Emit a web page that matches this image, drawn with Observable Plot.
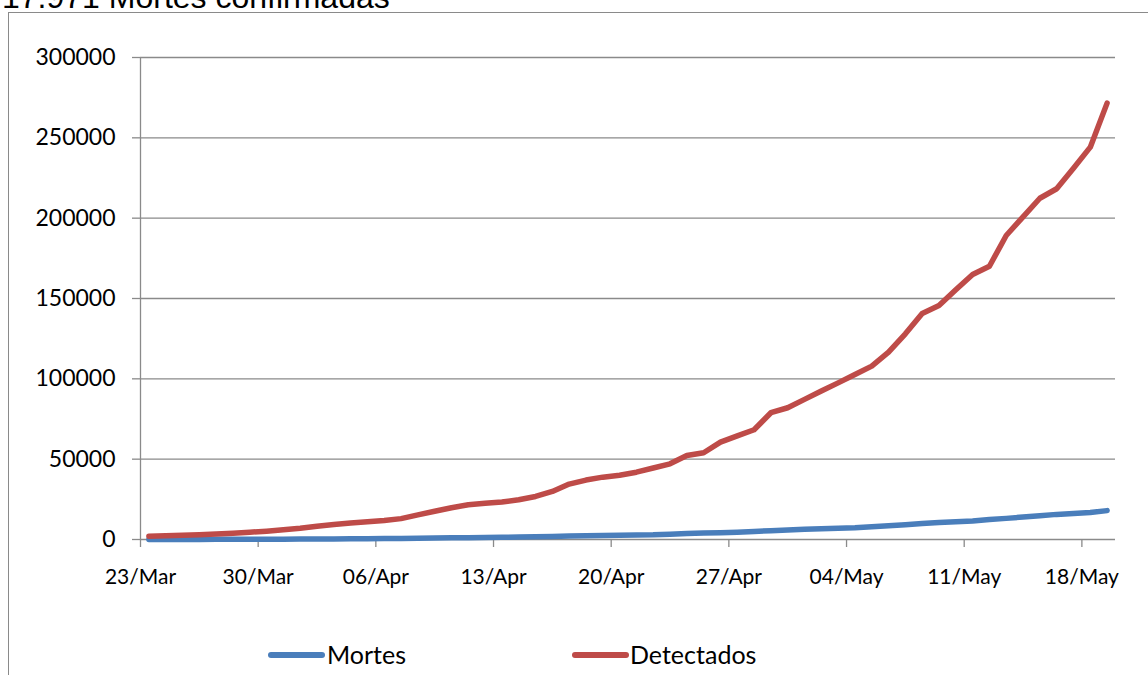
<!DOCTYPE html>
<html>
<head>
<meta charset="utf-8">
<script src="https://cdn.jsdelivr.net/npm/d3@7"></script>
<script src="https://cdn.jsdelivr.net/npm/@observablehq/plot@0.6"></script>
<style>
  html, body { margin: 0; padding: 0; background: #fff; overflow: hidden; width: 1148px; height: 675px; }
  #wrap { position: relative; width: 1148px; height: 675px; overflow: hidden; }
  #frame { position: absolute; left: 8px; top: 12px; width: 1300px; height: 800px; border: 1px solid #8a8a8a; box-sizing: border-box; }
  #title { position: absolute; left: 2px; top: -19px; font-family: "Liberation Sans", Arial, sans-serif; font-size: 32px; line-height: 32px; color: #000; white-space: nowrap; }
  #chart { position: absolute; left: 0; top: 0; }
  .leg { position: absolute; font-family: Lato, sans-serif; font-size: 25px; line-height: 30px; color: #000; top: 639px; }
  .sw { position: absolute; height: 6px; border-radius: 3px; top: 652px; }
</style>
</head>
<body>
<div id="wrap">
  <div id="frame"></div>
  <div id="title">17.971 Mortes confirmadas</div>
  <div id="chart"></div>
  <div id="legend"></div>
</div>
<script>
const dates = [
  "2020-03-23","2020-03-24","2020-03-25","2020-03-26","2020-03-27","2020-03-28","2020-03-29",
  "2020-03-30","2020-03-31","2020-04-01","2020-04-02","2020-04-03","2020-04-04","2020-04-05",
  "2020-04-06","2020-04-07","2020-04-08","2020-04-09","2020-04-10","2020-04-11","2020-04-12",
  "2020-04-13","2020-04-14","2020-04-15","2020-04-16","2020-04-17","2020-04-18","2020-04-19",
  "2020-04-20","2020-04-21","2020-04-22","2020-04-23","2020-04-24","2020-04-25","2020-04-26",
  "2020-04-27","2020-04-28","2020-04-29","2020-04-30","2020-05-01","2020-05-02","2020-05-03",
  "2020-05-04","2020-05-05","2020-05-06","2020-05-07","2020-05-08","2020-05-09","2020-05-10",
  "2020-05-11","2020-05-12","2020-05-13","2020-05-14","2020-05-15","2020-05-16","2020-05-17",
  "2020-05-18","2020-05-19"
];
const mortes = [
  34, 46, 57, 77, 92, 114, 136,
  159, 201, 240, 324, 359, 445, 486,
  553, 667, 800, 941, 1074, 1124, 1223,
  1328, 1532, 1736, 1924, 2141, 2347, 2462,
  2575, 2741, 2906, 3313, 3670, 4045, 4205,
  4543, 5017, 5466, 5901, 6329, 6724, 7025,
  7321, 7921, 8536, 9146, 9897, 10627, 11123,
  11519, 12400, 13149, 13993, 14817, 15633, 16118,
  16792, 17971
];
const detectados = [
  2000, 2300, 2600, 3000, 3400, 3900, 4500,
  5200, 6000, 7000, 8300, 9300, 10300, 11000,
  11800, 13000, 15300, 17600, 19800, 21600, 22500,
  23300, 24700, 26800, 29900, 34500, 37000, 38800,
  40000, 41900, 44500, 47100, 52300, 54000, 60600,
  64500, 68300, 78900, 82000, 87200, 92400, 97500,
  102700, 107900, 116600, 128000, 140700, 145600, 155400,
  164900, 170100, 189200, 200800, 212400, 218300, 231000,
  244200, 271600
];
const seriesNames = ["Mortes", "Detectados"];
const seriesColors = ["#4A7EBB", "#BE4B48"];
const yTicks = [0, 50000, 100000, 150000, 200000, 250000, 300000];
const xTickDates = ["2020-03-23","2020-03-30","2020-04-06","2020-04-13","2020-04-20","2020-04-27","2020-05-04","2020-05-11","2020-05-18"];
const xDomain = ["2020-03-23", "2020-05-20"];

const rows = [];
seriesNames.forEach((name, s) => {
  const vals = s === 0 ? mortes : detectados;
  dates.forEach((d, i) => rows.push({ series: name, date: new Date(d + "T12:00:00Z"), value: vals[i] }));
});
const toDate = d => new Date(d + "T00:00:00Z");
const gridColor = "#8a8a8a";

const chart = Plot.plot({
  width: 1148,
  height: 600,
  marginLeft: 140,
  marginRight: 33,
  marginTop: 57,
  marginBottom: 61,
  style: { fontFamily: "Lato, sans-serif", background: "transparent", overflow: "visible" },
  x: { type: "utc", domain: xDomain.map(toDate) },
  y: { domain: [0, 300000] },
  color: { domain: seriesNames, range: seriesColors },
  marks: [
    Plot.ruleY(yTicks, { stroke: gridColor, strokeWidth: 1.3 }),
    Plot.ruleX([toDate(xDomain[0])], { y1: 0, y2: 300000, stroke: gridColor, strokeWidth: 1.3 }),
    Plot.axisY({ ticks: yTicks, tickSize: 8, tickPadding: 17, tickFormat: d => String(d), fontSize: 23, fill: "#000", stroke: gridColor, strokeWidth: 1.3, label: null }),
    Plot.axisX({ ticks: xTickDates.map(toDate), tickSize: 8, tickPadding: 22, tickFormat: d3.utcFormat("%d/%b"), fontSize: 21, fill: "#000", stroke: gridColor, strokeWidth: 1.3, label: null }),
    Plot.line(rows, { x: "date", y: "value", z: "series", stroke: "series", strokeWidth: 5.5, strokeLinejoin: "round", strokeLinecap: "round" })
  ]
});
document.getElementById("chart").appendChild(chart);

const legendPos = [{ sw: 268, tx: 327 }, { sw: 572, tx: 630 }];
const leg = document.getElementById("legend");
seriesNames.forEach((name, i) => {
  const sw = document.createElement("div");
  sw.className = "sw";
  sw.style.left = legendPos[i].sw + "px";
  sw.style.width = "57px";
  sw.style.background = seriesColors[i];
  leg.appendChild(sw);
  const t = document.createElement("div");
  t.className = "leg";
  t.style.left = legendPos[i].tx + "px";
  t.textContent = name;
  leg.appendChild(t);
});
</script>
</body>
</html>
